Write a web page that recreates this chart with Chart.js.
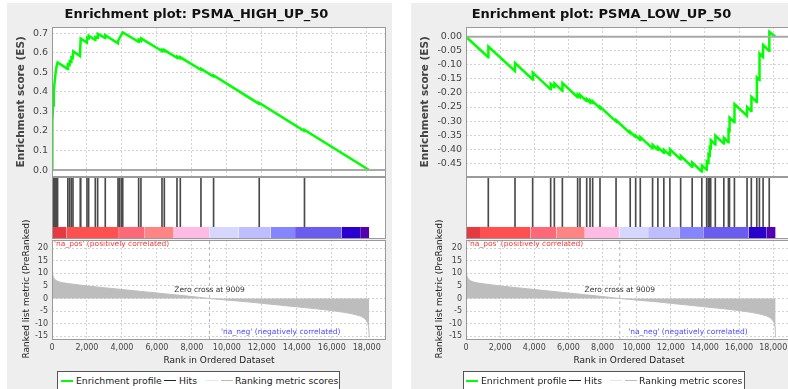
<!DOCTYPE html>
<html>
<head>
<meta charset="utf-8">
<title>Enrichment plots</title>
<script src="https://cdn.jsdelivr.net/npm/chart.js@4.4.1/dist/chart.umd.min.js"></script>
<style>
  html, body { margin: 0; padding: 0; background: #fff; }
  body { width: 788px; height: 389px; position: relative; overflow: hidden; font-family: 'DejaVu Sans', sans-serif; }
  .panel { position: absolute; top: 3px; height: 386px; background: #eeeeee; }
  canvas { position: absolute; }
  .legend { position: absolute; top: 371px; height: 20px; background: #fff; border: 1px solid #555; box-sizing: border-box; font-size: 9.3px; color: #222; }
  .legend .sw { position: absolute; top: 8px; width: 12px; height: 2px; }
  .legend .tx { position: absolute; top: 3px; white-space: nowrap; }
</style>
</head>
<body>
<div class="panel" style="left:7px; width:385px"></div>
<div class="panel" style="left:411px; width:387px"></div>

<canvas id="es-high"></canvas>
<canvas id="hits-high"></canvas>
<canvas id="rank-high"></canvas>
<canvas id="es-low"></canvas>
<canvas id="hits-low"></canvas>
<canvas id="rank-low"></canvas>

<div class="legend" style="left:57px; width:283px">
  <span class="sw" style="left:3px; background:#00ff00"></span><span class="tx" style="left:18px">Enrichment profile</span>
  <span class="sw" style="left:106px; height:1px; background:#222"></span><span class="tx" style="left:121px">Hits</span>
  <span class="sw" style="left:148px; height:1px; background:#e6e6e6"></span>
  <span class="sw" style="left:163px; height:1px; background:#bdbdbd"></span><span class="tx" style="left:177px">Ranking metric scores</span>
</div>
<div class="legend" style="left:463px; width:282px">
  <span class="sw" style="left:2px; background:#00ff00"></span><span class="tx" style="left:17px">Enrichment profile</span>
  <span class="sw" style="left:105px; height:1px; background:#222"></span><span class="tx" style="left:120px">Hits</span>
  <span class="sw" style="left:146px; height:1px; background:#e6e6e6"></span>
  <span class="sw" style="left:161px; height:1px; background:#bdbdbd"></span><span class="tx" style="left:175px">Ranking metric scores</span>
</div>

<script>
// ---- ranked list, shared by both gene sets ----
const XMAX = 19100;
const xTicks = [0, 2000, 4000, 6000, 8000, 10000, 12000, 14000, 16000, 18000];
const metricRanks = [0, 20, 60, 120, 200, 350, 600, 1000, 2000, 3000, 4000, 5000, 6000, 7000, 8000, 9009,
  10000, 11000, 12000, 13000, 14000, 15000, 16000, 16800, 17400, 17800, 18000, 18080, 18120, 18140];
const metricValues = [12.5, 10.5, 9, 8, 7.4, 6.8, 6.3, 5.9, 5.0, 4.3, 3.6, 2.9, 2.2, 1.5, 0.8, 0,
  -0.6, -1.2, -1.9, -2.6, -3.3, -4.0, -4.8, -5.6, -6.5, -7.6, -9, -10.5, -12.5, -15.5];
const metricTicks = [20, 15, 10, 5, 0, -5, -10, -15];
const zeroCross = 9009;

// heat bar under the hits: segment edges (rank) and colours
const barEdges = [0, 820, 3780, 5300, 6960, 8990, 10670, 12500, 13900, 16550, 17620, 18140];
const barColors = ['#e63a40', '#ff5050', '#ff6878', '#ff8585', '#ffbbe4', '#d6d6ff',
  '#bebeff', '#8585ff', '#6a5cef', '#2a00d0', '#5400b0'];

// ---- PSMA_HIGH_UP_50 ----
const highHits = [10, 30, 60, 100, 150, 210, 260, 320, 905, 1005, 1105, 1200, 1620, 1640,
  2000, 2095, 2476, 2610, 3046, 3775, 3850, 3960, 4045, 4955, 5086, 6290, 6423, 7147,
  7337, 8518, 9240, 11850, 14438];
const highEsRanks = [0, 10, 30, 60, 100, 150, 210, 260, 320,
  890, 910, 1000, 1010, 1100, 1110, 1180, 1217, 1600, 1640,
  1990, 2010, 2085, 2100, 2470, 2480, 2600, 2615, 3040, 3050,
  3771, 3780, 3850, 3960, 4050, 4950, 4962, 5080, 5092,
  6286, 6296, 6419, 6429, 7143, 7153, 7333, 7343, 8514, 8524,
  9236, 9246, 11846, 11856, 14434, 14444, 18130];
const highEsScores = [0, 0.1, 0.25, 0.33, 0.4, 0.45, 0.5, 0.53, 0.55,
  0.517, 0.54, 0.536, 0.556, 0.552, 0.575, 0.572, 0.607, 0.582, 0.672,
  0.652, 0.676, 0.672, 0.686, 0.664, 0.68, 0.676, 0.696, 0.675, 0.689,
  0.648, 0.66, 0.672, 0.69, 0.703, 0.655, 0.666, 0.66, 0.673,
  0.608, 0.614, 0.607, 0.613, 0.574, 0.58, 0.57, 0.576, 0.512, 0.517,
  0.478, 0.483, 0.338, 0.343, 0.199, 0.205, 0];
const highEsTicks = [0, 0.1, 0.2, 0.3, 0.4, 0.5, 0.6, 0.7];

// ---- PSMA_LOW_UP_50 ----
const lowHits = [1306, 2871, 3906, 4961, 5176, 5646, 6541, 6681, 7071, 7266, 7421, 7851,
  8791, 9621, 9941, 10211, 10931, 11241, 11591, 11946, 12576, 13251, 13816, 14101, 14201,
  14276, 14336, 14606, 15106, 15376, 15436, 15726, 16466, 16716, 17036, 17191, 17406, 17766];
const lowEsRanks = [0, 1300, 1312, 2865, 2877, 3900, 3912, 4955, 4967, 5170, 5182, 5640, 5652,
  6535, 6547, 6675, 6687, 7065, 7077, 7260, 7272, 7415, 7427, 7845, 7857, 8785, 8797,
  9615, 9627, 9935, 9947, 10205, 10217, 10925, 10937, 11235, 11247, 11585, 11597,
  11940, 11952, 12570, 12582, 13245, 13257, 13810, 13822, 14095, 14107, 14195, 14207,
  14270, 14282, 14330, 14342, 14600, 14612, 15100, 15112, 15370, 15382, 15430, 15442,
  15720, 15732, 16460, 16472, 16710, 16722, 17030, 17042, 17185, 17197, 17400, 17412,
  17760, 17772, 18130];
const lowEsScores = [0, -0.073, -0.035, -0.122, -0.094, -0.152, -0.128, -0.187, -0.168, -0.18, -0.166, -0.192, -0.165,
  -0.215, -0.206, -0.214, -0.207, -0.229, -0.222, -0.233, -0.227, -0.236, -0.23, -0.254, -0.249, -0.301, -0.297,
  -0.343, -0.339, -0.357, -0.352, -0.367, -0.357, -0.397, -0.385, -0.402, -0.393, -0.413, -0.402,
  -0.421, -0.401, -0.436, -0.424, -0.462, -0.448, -0.479, -0.458, -0.473, -0.445, -0.45, -0.42,
  -0.424, -0.395, -0.398, -0.368, -0.383, -0.352, -0.38, -0.36, -0.375, -0.333, -0.336, -0.288,
  -0.304, -0.24, -0.281, -0.25, -0.264, -0.214, -0.232, -0.145, -0.154, -0.06, -0.072, -0.03,
  -0.05, 0.017, 0];
const lowEsTicks = [0, -0.05, -0.1, -0.15, -0.2, -0.25, -0.3, -0.35, -0.4, -0.45];

const FONT = "'DejaVu Sans', sans-serif";
const GRID = '#d2d2d2';
const TICK_COLOR = '#444';

// page layout of the two panels (pixels)
const panels = [
  { key: 'high', name: 'PSMA_HIGH_UP_50', x: 7, w: 385, plotL: 52, padR: 6,
    hits: highHits, esRanks: highEsRanks, esScores: highEsScores, esTicks: highEsTicks,
    esMin: -0.033, esMax: 0.731, esDigits: 1, esTitlePad: 7.5, rankTitleX: 19.5 },
  { key: 'low', name: 'PSMA_LOW_UP_50', x: 411, w: 387, plotL: 466, padR: 6,
    hits: lowHits, esRanks: lowEsRanks, esScores: lowEsScores, esTicks: lowEsTicks,
    esMin: -0.497, esMax: 0.0345, esDigits: 2, esTitlePad: 8.2, rankTitleX: 28.5 }
];

const ES_TOP = 0, ES_H = 180;          // canvas box of the ES plot
const HITS_TOP = 177, HITS_H = 62;     // hits + heat bar
const RANK_TOP = 205, RANK_H = 184;    // ranked list metric (tall enough for its axis title)
const HEAT_FRAC = 12 / 62;             // share of the hits box used by the heat bar
const RANK_MIN = -16.5, RANK_MAX = 23.3;

// white plot background and grey frame around the chart area
const framePlugin = {
  id: 'frame',
  beforeDraw(chart) {
    const { ctx, chartArea: a } = chart;
    ctx.save();
    ctx.fillStyle = '#fff';
    ctx.fillRect(a.left, a.top, a.width, a.height);
    ctx.restore();
  },
  afterDraw(chart) {
    const { ctx, chartArea: a } = chart;
    ctx.save();
    ctx.strokeStyle = '#9a9a9a';
    ctx.lineWidth = 1;
    ctx.strokeRect(Math.round(a.left) + 0.5, Math.round(a.top) + 0.5,
      Math.round(a.width) - 1, Math.round(a.height) - 1);
    ctx.restore();
  }
};

// labels inside the ranked-metric plot, plus its rotated axis title
// (the title is longer than the plot is tall, so it is drawn by hand)
const notesPlugin = {
  id: 'notes',
  afterDatasetsDraw(chart, args, opts) {
    const { ctx, chartArea: a, scales: { x, y } } = chart;
    ctx.save();
    ctx.font = '7.5px ' + FONT;
    ctx.textBaseline = 'middle';
    ctx.fillStyle = '#f03c3c';
    ctx.textAlign = 'left';
    ctx.fillText("'na_pos' (positively correlated)", a.left + 2, a.top + 4.5);
    ctx.fillStyle = '#333';
    ctx.textAlign = 'center';
    ctx.fillText('Zero cross at ' + zeroCross, x.getPixelForValue(zeroCross), y.getPixelForValue(3.4));
    ctx.fillStyle = '#4c4cff';
    ctx.textAlign = 'right';
    ctx.fillText("'na_neg' (negatively correlated)", x.getPixelForValue(16500), a.bottom - 8);

    ctx.translate(opts.titleX, (a.top + a.bottom) / 2 - 1);
    ctx.rotate(-Math.PI / 2);
    ctx.font = '9px ' + FONT;
    ctx.fillStyle = '#222';
    ctx.textAlign = 'center';
    ctx.fillText('Ranked list metric (PreRanked)', 0, 0);
    ctx.restore();
  }
};

function place(id, left, top, w, h) {
  const c = document.getElementById(id);
  c.width = w; c.height = h;
  c.style.left = left + 'px';
  c.style.top = top + 'px';
  c.style.width = w + 'px';
  c.style.height = h + 'px';
  return c;
}

function fixedTicks(values) {
  return scale => { scale.ticks = values.map(v => ({ value: v })); };
}

function axisWidth(w) {
  return scale => { scale.width = w; scale.paddingTop = 0; scale.paddingBottom = 0; };
}

function drawPanel(p) {
  const yAxisW = p.plotL - p.x;
  const common = { responsive: false, animation: false, devicePixelRatio: 1, events: [] };

  // running enrichment score
  new Chart(place('es-' + p.key, p.x, ES_TOP, p.w, ES_H), {
    type: 'line',
    data: {
      datasets: [
        { data: [{ x: 0, y: 0 }, { x: XMAX, y: 0 }], borderColor: '#a9a9a9', borderWidth: 2, pointRadius: 0 },
        { data: p.esRanks.map((r, i) => ({ x: r, y: p.esScores[i] })), borderColor: '#00ff00',
          borderWidth: 2.5, pointRadius: 0, tension: 0 }
      ]
    },
    options: {
      ...common,
      layout: { padding: { left: 0, right: p.padR, top: 0, bottom: 3.5 } },
      plugins: {
        legend: { display: false }, tooltip: { enabled: false },
        title: { display: true, text: 'Enrichment plot: ' + p.name, color: '#111',
          font: { family: FONT, size: 13, weight: 'bold' }, padding: { top: 7, bottom: 4.4 } }
      },
      scales: {
        x: { type: 'linear', min: 0, max: XMAX, afterBuildTicks: fixedTicks(xTicks),
          ticks: { display: false }, grid: { drawTicks: false, color: GRID },
          border: { display: false, dash: [2, 2] } },
        y: { min: p.esMin, max: p.esMax, afterBuildTicks: fixedTicks(p.esTicks), afterFit: axisWidth(yAxisW),
          ticks: { color: TICK_COLOR, padding: 4, font: { family: FONT, size: 9.5 },
            callback: v => v.toFixed(p.esDigits) },
          grid: { drawTicks: false, color: GRID }, border: { display: false, dash: [2, 2] },
          title: { display: true, text: 'Enrichment score (ES)', color: '#444',
            font: { family: FONT, size: 10.5, weight: 'bold' }, padding: { top: p.esTitlePad, bottom: 0 } } }
      }
    },
    plugins: [framePlugin]
  });

  // gene set hits and the heat bar
  const heat = barColors.map((c, i) => ({
    type: 'line',
    data: [{ x: barEdges[i], y: HEAT_FRAC }, { x: barEdges[i + 1], y: HEAT_FRAC }],
    backgroundColor: c, borderWidth: 0, pointRadius: 0, fill: 'origin'
  }));
  new Chart(place('hits-' + p.key, p.x, HITS_TOP, p.w, HITS_H), {
    type: 'bar',
    data: {
      datasets: [...heat, {
        type: 'bar', data: p.hits.map(r => ({ x: r, y: [HEAT_FRAC, 1] })),
        backgroundColor: '#4a4a4a', barThickness: 1
      }]
    },
    options: {
      ...common,
      layout: { padding: { left: yAxisW, right: p.padR, top: 0, bottom: 0 } },
      plugins: { legend: { display: false }, tooltip: { enabled: false } },
      scales: {
        x: { type: 'linear', min: 0, max: XMAX, offset: false, display: false },
        y: { min: 0, max: 1, display: false }
      }
    },
    plugins: [framePlugin]
  });

  // ranked list metric
  new Chart(place('rank-' + p.key, p.x, RANK_TOP, p.w, RANK_H), {
    type: 'line',
    data: {
      datasets: [
        { data: metricRanks.map((r, i) => ({ x: r, y: metricValues[i] })), borderColor: '#bdbdbd',
          backgroundColor: '#bdbdbd', borderWidth: 1, pointRadius: 0, fill: 'origin', cubicInterpolationMode: 'monotone' },
        { data: [{ x: zeroCross, y: RANK_MIN }, { x: zeroCross, y: RANK_MAX }], borderColor: '#b5b5b5',
          borderDash: [3, 3], borderWidth: 1, pointRadius: 0 }
      ]
    },
    options: {
      ...common,
      layout: { padding: { left: 0, right: p.padR, top: 240 - RANK_TOP, bottom: 22.6 } },
      plugins: { legend: { display: false }, tooltip: { enabled: false }, notes: { titleX: p.rankTitleX } },
      scales: {
        x: { type: 'linear', min: 0, max: XMAX, afterBuildTicks: fixedTicks(xTicks),
          ticks: { color: TICK_COLOR, padding: 3, maxRotation: 0, autoSkip: false, font: { family: FONT, size: 8 },
            callback: v => v.toLocaleString('en-US') },
          grid: { drawTicks: false, color: GRID }, border: { display: false, dash: [2, 2] },
          title: { display: true, text: 'Rank in Ordered Dataset', color: '#222',
            font: { family: FONT, size: 9 }, padding: { top: 0, bottom: 0 } } },
        y: { min: RANK_MIN, max: RANK_MAX, afterBuildTicks: fixedTicks(metricTicks), afterFit: axisWidth(yAxisW),
          ticks: { color: TICK_COLOR, padding: 4, font: { family: FONT, size: 8 } },
          grid: { drawTicks: false, color: GRID }, border: { display: false, dash: [2, 2] } }
      }
    },
    plugins: [framePlugin, notesPlugin]
  });
}

panels.forEach(drawPanel);
</script>
</body>
</html>
